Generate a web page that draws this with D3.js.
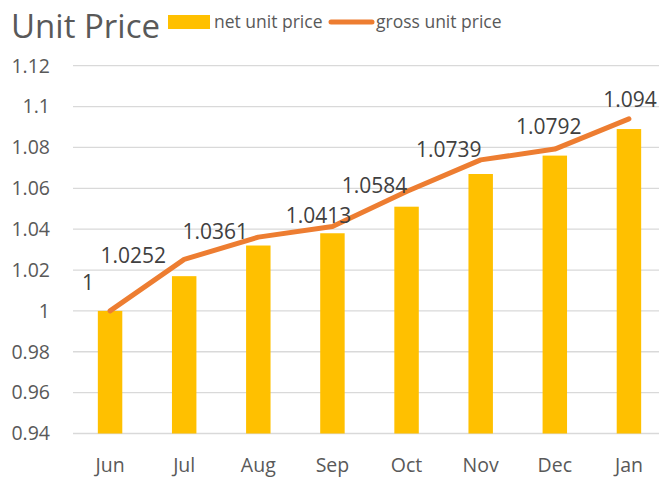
<!DOCTYPE html>
<html>
<head>
<meta charset="utf-8">
<script src="https://cdn.jsdelivr.net/npm/d3@7"></script>
<style>
  body { margin: 0; background: #fff; }
  text { font-family: "Open Sans", sans-serif; fill: #595959; }
</style>
</head>
<body>
<div id="graph"></div>
<script>
var months = ['Jun', 'Jul', 'Aug', 'Sep', 'Oct', 'Nov', 'Dec', 'Jan']
var netPrice = [1.0, 1.017, 1.032, 1.038, 1.051, 1.067, 1.076, 1.089]
var grossPrice = [1, 1.0252, 1.0361, 1.0413, 1.0584, 1.0739, 1.0792, 1.094]
var yTicks = [0.94, 0.96, 0.98, 1, 1.02, 1.04, 1.06, 1.08, 1.1, 1.12]

var width = 659, height = 477

var svg = d3.select('#graph').append('svg')
  .attr('width', width).attr('height', height)

var x = d3.scaleBand().domain(months).range([73, 666]).paddingInner(0.67).paddingOuter(0.335)
var y = d3.scaleLinear().domain([0.94, 1.12]).range([433.5, 65.7])

// gridlines
svg.append('g').selectAll('line').data(yTicks).join('line')
  .attr('x1', 73).attr('x2', width)
  .attr('y1', d => y(d)).attr('y2', d => y(d))
  .attr('stroke', '#d9d9d9').attr('stroke-width', 1.3)

// y labels
svg.append('g').selectAll('text').data(yTicks).join('text')
  .attr('x', 50).attr('y', d => y(d)).attr('dy', '0.35em')
  .attr('text-anchor', 'end').style('font-size', '19.5px')
  .text(d => d)

// x labels
svg.append('g').selectAll('text').data(months).join('text')
  .attr('x', d => x(d) + x.bandwidth()/2).attr('y', 472)
  .attr('text-anchor', 'middle').style('font-size', '19.5px')
  .text(d => d)

// bars
svg.append('g').selectAll('rect').data(netPrice).join('rect')
  .attr('x', (d, i) => x(months[i]))
  .attr('width', x.bandwidth())
  .attr('y', d => y(d))
  .attr('height', d => y(0.94) - y(d))
  .attr('fill', '#ffc000')

// gross line
var line = d3.line()
  .x((d, i) => x(months[i]) + x.bandwidth()/2)
  .y(d => y(d))

svg.append('path').datum(grossPrice)
  .attr('d', line)
  .attr('fill', 'none').attr('stroke', '#ed7d31')
  .attr('stroke-width', 5).attr('stroke-linecap', 'round').attr('stroke-linejoin', 'round')

// labels were nudged by hand in the original, keep the same shifts
var labelShift = [[-22, -28], [-51, -4], [-43, -5], [-14, -11], [-32, -6], [-32, -10], [-6, -22], [1, -19]]

svg.append('g').selectAll('text').data(grossPrice).join('text')
  .attr('x', (d, i) => x(months[i]) + x.bandwidth()/2 + labelShift[i][0])
  .attr('y', (d, i) => y(d) + labelShift[i][1])
  .attr('dy', '0.35em')
  .attr('text-anchor', 'middle').style('font-size', '21px')
  .style('fill', '#404040')
  .text(d => d)

// title
svg.append('text').attr('x', 11).attr('y', 38)
  .style('font-size', '33px').text('Unit Price')

// legend
var leg = svg.append('g')
leg.append('rect').attr('x', 168).attr('y', 15).attr('width', 42).attr('height', 14).attr('fill', '#ffc000')
leg.append('text').attr('x', 214).attr('y', 22).attr('dy', '0.35em').style('font-size', '17.5px').text('net unit price')
leg.append('line').attr('x1', 331).attr('x2', 372).attr('y1', 22).attr('y2', 22)
  .attr('stroke', '#ed7d31').attr('stroke-width', 5).attr('stroke-linecap', 'round')
leg.append('text').attr('x', 376).attr('y', 22).attr('dy', '0.35em').style('font-size', '17.5px').text('gross unit price')
</script>
</body>
</html>
